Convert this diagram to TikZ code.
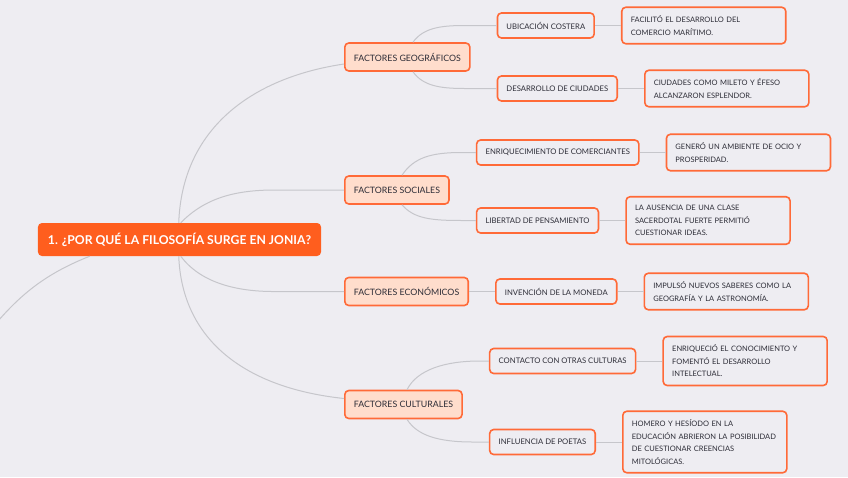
\documentclass[tikz,border=0pt]{standalone}
\usepackage{fontspec}
\setmainfont{Lato}
\usepackage{tikz}
\usetikzlibrary{positioning}
\definecolor{fondo}{RGB}{238,237,242}
\definecolor{naranja}{RGB}{255,94,30}
\definecolor{borde}{RGB}{255,106,56}
\definecolor{melocoton}{RGB}{255,221,204}
\definecolor{gris}{RGB}{198,198,203}
\definecolor{texto}{RGB}{45,45,55}
\tikzset{
  %Define style for the central box
  raiz/.style={
    rectangle,
    rounded corners=4pt,
    fill=naranja,
    text=white,
    font=\fontsize{12.2}{14}\selectfont\bfseries,
    inner xsep=10pt,
    minimum height=33pt},
  %Define style for the factor boxes
  rama/.style={
    rectangle,
    rounded corners=4pt,
    draw=borde, line width=1.6pt,
    fill=melocoton,
    text=texto,
    font=\fontsize{8.8}{10}\selectfont,
    inner xsep=9pt,
    minimum height=28pt,
    anchor=west},
  %Define style for the second level
  tema/.style={
    rectangle,
    rounded corners=4pt,
    draw=borde, line width=1.6pt,
    fill=fondo,
    text=texto,
    font=\fontsize{7.7}{9}\selectfont,
    inner xsep=9pt,
    minimum height=25pt},
  %Define style for the explanations
  hoja/.style={
    rectangle,
    rounded corners=4pt,
    draw=borde, line width=1.6pt,
    fill=fondo,
    text=texto,
    text width=146pt,
    align=left,
    font=\fontsize{7.5}{12.5}\selectfont,
    inner xsep=9pt,
    inner ysep=8.5pt},
  % Define line style
  linea/.style={
    draw=gris,
    line width=1pt}
}

\begin{document}
\begin{tikzpicture}[x=1pt,y=-1pt,node distance=26pt]
  \clip (0,0) rectangle (848,477);
  \fill[fondo] (0,0) rectangle (848,477);

  \node[raiz] (jonia) at (179.5,239.5) {1. ¿POR QUÉ LA FILOSOFÍA SURGE EN JONIA?};

  \node[rama] (geo) at (344,57) {FACTORES GEOGRÁFICOS};
  \node[rama] (soc) at (344,190) {FACTORES SOCIALES};
  \node[rama] (eco) at (344,291.5) {FACTORES ECONÓMICOS};
  \node[rama] (cul) at (344,404.5) {FACTORES CULTURALES};

  \node[tema, right=of geo, yshift=31.5pt] (costa) {UBICACIÓN COSTERA};
  \node[tema, right=of geo, yshift=-31.5pt] (ciudad) {DESARROLLO DE CIUDADES};
  \node[tema, right=of soc, yshift=37.5pt] (comer) {ENRIQUECIMIENTO DE COMERCIANTES};
  \node[tema, right=of soc, yshift=-30.5pt] (liber) {LIBERTAD DE PENSAMIENTO};
  \node[tema, right=of eco] (moneda) {INVENCIÓN DE LA MONEDA};
  \node[tema, right=of cul, yshift=43.5pt] (contac) {CONTACTO CON OTRAS CULTURAS};
  \node[tema, right=of cul, yshift=-37.5pt] (poeta) {INFLUENCIA DE POETAS};

  \node[hoja, right=of costa] (h1) {FACILITÓ EL DESARROLLO DEL\\COMERCIO MARÍTIMO.};
  \node[hoja, right=of ciudad] (h2) {CIUDADES COMO MILETO Y ÉFESO\\ALCANZARON ESPLENDOR.};
  \node[hoja, right=of comer] (h3) {GENERÓ UN AMBIENTE DE OCIO Y\\PROSPERIDAD.};
  \node[hoja, right=of liber] (h4) {LA AUSENCIA DE UNA CLASE\\SACERDOTAL FUERTE PERMITIÓ\\CUESTIONAR IDEAS.};
  \node[hoja, right=of moneda] (h5) {IMPULSÓ NUEVOS SABERES COMO LA\\GEOGRAFÍA Y LA ASTRONOMÍA.};
  \node[hoja, right=of contac] (h6) {ENRIQUECIÓ EL CONOCIMIENTO Y\\FOMENTÓ EL DESARROLLO\\INTELECTUAL.};
  \node[hoja, right=of poeta] (h7) {HOMERO Y HESÍODO EN LA\\EDUCACIÓN ABRIERON LA POSIBILIDAD\\DE CUESTIONAR CREENCIAS\\MITOLÓGICAS.};

  \coordinate (fuera) at (-25,350);

  \draw[linea] ([xshift=141pt]jonia.north west) .. controls (182,130) and (250,78) .. ([yshift=-7pt]geo.west);
  \draw[linea] ([xshift=143pt]jonia.north west) .. controls (205,198) and (235,190) .. ([xshift=-69pt]soc.west) -- (soc.west);
  \draw[linea] ([xshift=143pt]jonia.south west) .. controls (200,282) and (235,292) .. ([xshift=-67pt]eco.west) -- (eco.west);
  \draw[linea] ([xshift=141pt]jonia.south west) .. controls (182,340) and (245,388) .. ([yshift=6pt]cul.west);
  \draw[linea] ([xshift=52pt]jonia.south west) .. controls (40,276) and (12,300) .. (fuera);

  \draw[linea] ([xshift=69pt]geo.north west) .. controls +(10,-14) and +(-25,0) .. ([xshift=-32pt]costa.west) -- (costa.west);
  \draw[linea] ([xshift=69pt]geo.south west) .. controls +(10,14) and +(-25,0) .. ([xshift=-32pt]ciudad.west) -- (ciudad.west);
  \draw[linea] ([xshift=58pt]soc.north west) .. controls +(12,-18) and +(-30,0) .. ([xshift=-14pt]comer.west) -- (comer.west);
  \draw[linea] ([xshift=58pt]soc.south west) .. controls +(12,14) and +(-30,0) .. ([xshift=-14pt]liber.west) -- (liber.west);
  \draw[linea] (eco.east) -- (moneda.west);
  \draw[linea] ([xshift=63pt]cul.north west) .. controls +(10,-20) and +(-35,0) .. ([xshift=-9pt]contac.west) -- (contac.west);
  \draw[linea] ([xshift=63pt]cul.south west) .. controls +(10,16) and +(-35,0) .. ([xshift=-16pt]poeta.west) -- (poeta.west);

  \foreach \a/\b in {costa/h1, ciudad/h2, comer/h3, liber/h4, moneda/h5, contac/h6, poeta/h7}
    \draw[linea] (\a.east) -- (\b.west);
\end{tikzpicture}
\end{document}
